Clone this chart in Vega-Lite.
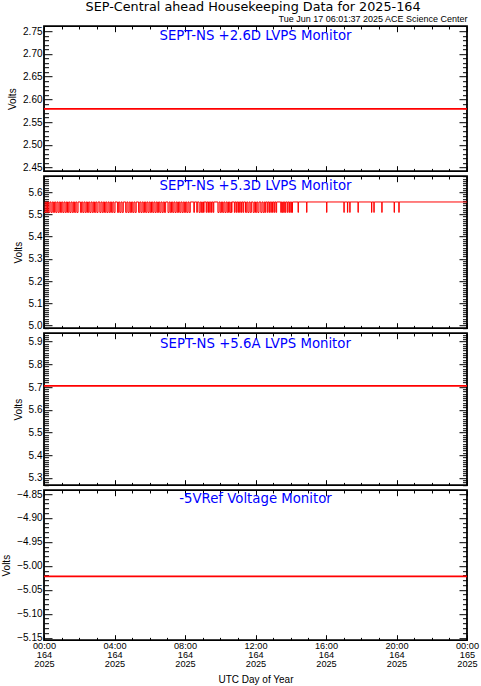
{
  "$schema": "https://vega.github.io/schema/vega-lite/v6.json",
  "background": "white",
  "padding": {"left": 0, "top": 0.2, "right": 0, "bottom": 0},
  "spacing": 5,
  "bounds": "flush",
  "title": {"text": "SEP-Central ahead Housekeeping Data for 2025-164", "font": "DejaVu Sans", "fontSize": 12.8, "fontWeight": "normal", "color": "black", "anchor": "middle", "offset": 0, "dx": 13},
  "config": {
    "view": {"stroke": "black", "strokeWidth": 1.8},
    "axis": {"domain": false, "grid": false, "labelFont": "Liberation Sans", "labelFontSize": 10, "labelColor": "black", "titleFont": "Liberation Sans", "titleFontSize": 10, "titleFontWeight": "normal", "titleColor": "black", "tickColor": "black", "tickWidth": 1, "labelOverlap": false, "labelFlush": false}
  },
  "datasets": {
    "flat": [
      {"t": "2025-06-13T00:00Z", "a": 2.579, "c": 5.705, "d": -5.022},
      {"t": "2025-06-13T01:00Z", "a": 2.579, "c": 5.705, "d": -5.022},
      {"t": "2025-06-13T02:00Z", "a": 2.579, "c": 5.705, "d": -5.022},
      {"t": "2025-06-13T03:00Z", "a": 2.579, "c": 5.705, "d": -5.022},
      {"t": "2025-06-13T04:00Z", "a": 2.579, "c": 5.705, "d": -5.022},
      {"t": "2025-06-13T05:00Z", "a": 2.579, "c": 5.705, "d": -5.022},
      {"t": "2025-06-13T06:00Z", "a": 2.579, "c": 5.705, "d": -5.022},
      {"t": "2025-06-13T07:00Z", "a": 2.579, "c": 5.705, "d": -5.022},
      {"t": "2025-06-13T08:00Z", "a": 2.579, "c": 5.705, "d": -5.022},
      {"t": "2025-06-13T09:00Z", "a": 2.579, "c": 5.705, "d": -5.022},
      {"t": "2025-06-13T10:00Z", "a": 2.579, "c": 5.705, "d": -5.022},
      {"t": "2025-06-13T11:00Z", "a": 2.579, "c": 5.705, "d": -5.022},
      {"t": "2025-06-13T12:00Z", "a": 2.579, "c": 5.705, "d": -5.022},
      {"t": "2025-06-13T13:00Z", "a": 2.579, "c": 5.705, "d": -5.022},
      {"t": "2025-06-13T14:00Z", "a": 2.579, "c": 5.705, "d": -5.022},
      {"t": "2025-06-13T15:00Z", "a": 2.579, "c": 5.705, "d": -5.022},
      {"t": "2025-06-13T16:00Z", "a": 2.579, "c": 5.705, "d": -5.022},
      {"t": "2025-06-13T17:00Z", "a": 2.579, "c": 5.705, "d": -5.022},
      {"t": "2025-06-13T18:00Z", "a": 2.579, "c": 5.705, "d": -5.022},
      {"t": "2025-06-13T19:00Z", "a": 2.579, "c": 5.705, "d": -5.022},
      {"t": "2025-06-13T20:00Z", "a": 2.579, "c": 5.705, "d": -5.022},
      {"t": "2025-06-13T21:00Z", "a": 2.579, "c": 5.705, "d": -5.022},
      {"t": "2025-06-13T22:00Z", "a": 2.579, "c": 5.705, "d": -5.022},
      {"t": "2025-06-13T23:00Z", "a": 2.579, "c": 5.705, "d": -5.022},
      {"t": "2025-06-14T00:00Z", "a": 2.579, "c": 5.705, "d": -5.022}
    ],
    "p2": [
      {"t":"2025-06-13T00:00Z","v":5.509},{"t":"2025-06-13T00:04Z","v":5.556},{"t":"2025-06-13T00:08Z","v":5.509},{"t":"2025-06-13T00:12Z","v":5.556},
      {"t":"2025-06-13T00:16Z","v":5.509},{"t":"2025-06-13T00:20Z","v":5.556},{"t":"2025-06-13T00:24Z","v":5.509},{"t":"2025-06-13T00:28Z","v":5.556},
      {"t":"2025-06-13T00:32Z","v":5.509},{"t":"2025-06-13T00:36Z","v":5.556},{"t":"2025-06-13T00:40Z","v":5.509},{"t":"2025-06-13T00:44Z","v":5.556},
      {"t":"2025-06-13T00:48Z","v":5.509},{"t":"2025-06-13T00:52Z","v":5.556},{"t":"2025-06-13T00:56Z","v":5.509},{"t":"2025-06-13T01:00Z","v":5.556},
      {"t":"2025-06-13T01:04Z","v":5.509},{"t":"2025-06-13T01:08Z","v":5.556},{"t":"2025-06-13T01:12Z","v":5.509},{"t":"2025-06-13T01:16Z","v":5.556},
      {"t":"2025-06-13T01:20Z","v":5.509},{"t":"2025-06-13T01:24Z","v":5.556},{"t":"2025-06-13T01:28Z","v":5.509},{"t":"2025-06-13T01:32Z","v":5.556},
      {"t":"2025-06-13T01:36Z","v":5.509},{"t":"2025-06-13T01:40Z","v":5.556},{"t":"2025-06-13T01:44Z","v":5.509},{"t":"2025-06-13T01:48Z","v":5.556},
      {"t":"2025-06-13T01:52Z","v":5.509},{"t":"2025-06-13T01:56Z","v":5.556},
      {"t":"2025-06-13T02:04Z","v":5.509},{"t":"2025-06-13T02:08Z","v":5.556},{"t":"2025-06-13T02:12Z","v":5.509},{"t":"2025-06-13T02:16Z","v":5.556},
      {"t":"2025-06-13T02:20Z","v":5.509},{"t":"2025-06-13T02:24Z","v":5.556},{"t":"2025-06-13T02:28Z","v":5.509},{"t":"2025-06-13T02:32Z","v":5.556},
      {"t":"2025-06-13T02:36Z","v":5.509},{"t":"2025-06-13T02:40Z","v":5.556},{"t":"2025-06-13T02:44Z","v":5.509},{"t":"2025-06-13T02:48Z","v":5.556},
      {"t":"2025-06-13T02:52Z","v":5.509},{"t":"2025-06-13T02:56Z","v":5.556},{"t":"2025-06-13T03:00Z","v":5.509},{"t":"2025-06-13T03:04Z","v":5.556},
      {"t":"2025-06-13T03:10Z","v":5.509},{"t":"2025-06-13T03:14Z","v":5.556},{"t":"2025-06-13T03:18Z","v":5.509},{"t":"2025-06-13T03:22Z","v":5.556},
      {"t":"2025-06-13T03:26Z","v":5.509},{"t":"2025-06-13T03:30Z","v":5.556},{"t":"2025-06-13T03:34Z","v":5.509},{"t":"2025-06-13T03:38Z","v":5.556},
      {"t":"2025-06-13T03:42Z","v":5.509},{"t":"2025-06-13T03:46Z","v":5.556},{"t":"2025-06-13T03:50Z","v":5.509},{"t":"2025-06-13T03:54Z","v":5.556},
      {"t":"2025-06-13T03:58Z","v":5.509},{"t":"2025-06-13T04:02Z","v":5.556},
      {"t":"2025-06-13T04:10Z","v":5.509},{"t":"2025-06-13T04:14Z","v":5.556},{"t":"2025-06-13T04:18Z","v":5.509},{"t":"2025-06-13T04:22Z","v":5.556},
      {"t":"2025-06-13T04:26Z","v":5.509},{"t":"2025-06-13T04:30Z","v":5.556},
      {"t":"2025-06-13T04:38Z","v":5.509},{"t":"2025-06-13T04:42Z","v":5.556},{"t":"2025-06-13T04:46Z","v":5.509},{"t":"2025-06-13T04:50Z","v":5.556},
      {"t":"2025-06-13T04:54Z","v":5.509},{"t":"2025-06-13T04:58Z","v":5.556},{"t":"2025-06-13T05:02Z","v":5.509},{"t":"2025-06-13T05:06Z","v":5.556},
      {"t":"2025-06-13T05:10Z","v":5.509},{"t":"2025-06-13T05:14Z","v":5.556},
      {"t":"2025-06-13T05:22Z","v":5.509},{"t":"2025-06-13T05:26Z","v":5.556},{"t":"2025-06-13T05:30Z","v":5.509},{"t":"2025-06-13T05:34Z","v":5.556},
      {"t":"2025-06-13T05:38Z","v":5.509},{"t":"2025-06-13T05:42Z","v":5.556},{"t":"2025-06-13T05:46Z","v":5.509},{"t":"2025-06-13T05:50Z","v":5.556},
      {"t":"2025-06-13T05:54Z","v":5.509},{"t":"2025-06-13T05:58Z","v":5.556},{"t":"2025-06-13T06:02Z","v":5.509},{"t":"2025-06-13T06:06Z","v":5.556},
      {"t":"2025-06-13T06:10Z","v":5.509},{"t":"2025-06-13T06:14Z","v":5.556},{"t":"2025-06-13T06:18Z","v":5.509},{"t":"2025-06-13T06:22Z","v":5.556},
      {"t":"2025-06-13T06:26Z","v":5.509},{"t":"2025-06-13T06:30Z","v":5.556},{"t":"2025-06-13T06:34Z","v":5.509},{"t":"2025-06-13T06:38Z","v":5.556},
      {"t":"2025-06-13T06:42Z","v":5.509},{"t":"2025-06-13T06:46Z","v":5.556},{"t":"2025-06-13T06:50Z","v":5.509},{"t":"2025-06-13T06:54Z","v":5.556},
      {"t":"2025-06-13T07:02Z","v":5.509},{"t":"2025-06-13T07:06Z","v":5.556},{"t":"2025-06-13T07:10Z","v":5.509},{"t":"2025-06-13T07:14Z","v":5.556},
      {"t":"2025-06-13T07:18Z","v":5.509},{"t":"2025-06-13T07:22Z","v":5.556},{"t":"2025-06-13T07:26Z","v":5.509},{"t":"2025-06-13T07:30Z","v":5.556},
      {"t":"2025-06-13T07:34Z","v":5.509},{"t":"2025-06-13T07:38Z","v":5.556},{"t":"2025-06-13T07:42Z","v":5.509},{"t":"2025-06-13T07:46Z","v":5.556},
      {"t":"2025-06-13T07:50Z","v":5.509},{"t":"2025-06-13T07:54Z","v":5.556},{"t":"2025-06-13T07:58Z","v":5.509},{"t":"2025-06-13T08:02Z","v":5.556},
      {"t":"2025-06-13T08:06Z","v":5.509},{"t":"2025-06-13T08:10Z","v":5.556},{"t":"2025-06-13T08:14Z","v":5.509},{"t":"2025-06-13T08:18Z","v":5.556},
      {"t":"2025-06-13T08:30Z","v":5.509},{"t":"2025-06-13T08:32Z","v":5.556},{"t":"2025-06-13T08:40Z","v":5.509},{"t":"2025-06-13T08:42Z","v":5.556},
      {"t":"2025-06-13T08:48Z","v":5.509},{"t":"2025-06-13T08:52Z","v":5.556},{"t":"2025-06-13T08:56Z","v":5.509},{"t":"2025-06-13T09:00Z","v":5.556},
      {"t":"2025-06-13T09:03Z","v":5.509},{"t":"2025-06-13T09:05Z","v":5.556},
      {"t":"2025-06-13T09:12Z","v":5.509},{"t":"2025-06-13T09:14Z","v":5.556},{"t":"2025-06-13T09:18Z","v":5.509},{"t":"2025-06-13T09:20Z","v":5.556},
      {"t":"2025-06-13T09:24Z","v":5.509},{"t":"2025-06-13T09:26Z","v":5.556},{"t":"2025-06-13T09:30Z","v":5.509},{"t":"2025-06-13T09:32Z","v":5.556},
      {"t":"2025-06-13T09:36Z","v":5.509},{"t":"2025-06-13T09:38Z","v":5.556},
      {"t":"2025-06-13T09:52Z","v":5.509},{"t":"2025-06-13T09:56Z","v":5.556},{"t":"2025-06-13T10:00Z","v":5.509},{"t":"2025-06-13T10:04Z","v":5.556},
      {"t":"2025-06-13T10:08Z","v":5.509},{"t":"2025-06-13T10:12Z","v":5.556},{"t":"2025-06-13T10:16Z","v":5.509},{"t":"2025-06-13T10:20Z","v":5.556},
      {"t":"2025-06-13T10:24Z","v":5.509},{"t":"2025-06-13T10:28Z","v":5.556},{"t":"2025-06-13T10:32Z","v":5.509},{"t":"2025-06-13T10:36Z","v":5.556},
      {"t":"2025-06-13T10:38Z","v":5.509},{"t":"2025-06-13T10:40Z","v":5.556},
      {"t":"2025-06-13T10:48Z","v":5.509},{"t":"2025-06-13T10:50Z","v":5.556},{"t":"2025-06-13T10:54Z","v":5.509},{"t":"2025-06-13T10:56Z","v":5.556},
      {"t":"2025-06-13T11:00Z","v":5.509},{"t":"2025-06-13T11:02Z","v":5.556},{"t":"2025-06-13T11:06Z","v":5.509},{"t":"2025-06-13T11:08Z","v":5.556},
      {"t":"2025-06-13T11:12Z","v":5.509},{"t":"2025-06-13T11:14Z","v":5.556},{"t":"2025-06-13T11:18Z","v":5.509},{"t":"2025-06-13T11:20Z","v":5.556},
      {"t":"2025-06-13T11:26Z","v":5.509},{"t":"2025-06-13T11:30Z","v":5.556},{"t":"2025-06-13T11:34Z","v":5.509},{"t":"2025-06-13T11:38Z","v":5.556},
      {"t":"2025-06-13T11:42Z","v":5.509},{"t":"2025-06-13T11:46Z","v":5.556},{"t":"2025-06-13T11:52Z","v":5.509},{"t":"2025-06-13T11:56Z","v":5.556},
      {"t":"2025-06-13T12:00Z","v":5.509},{"t":"2025-06-13T12:04Z","v":5.556},{"t":"2025-06-13T12:08Z","v":5.509},{"t":"2025-06-13T12:12Z","v":5.556},
      {"t":"2025-06-13T12:18Z","v":5.509},{"t":"2025-06-13T12:22Z","v":5.556},{"t":"2025-06-13T12:26Z","v":5.509},{"t":"2025-06-13T12:30Z","v":5.556},
      {"t":"2025-06-13T12:33Z","v":5.509},{"t":"2025-06-13T12:35Z","v":5.556},
      {"t":"2025-06-13T12:40Z","v":5.509},{"t":"2025-06-13T12:42Z","v":5.556},{"t":"2025-06-13T12:46Z","v":5.509},{"t":"2025-06-13T12:48Z","v":5.556},
      {"t":"2025-06-13T12:52Z","v":5.509},{"t":"2025-06-13T12:54Z","v":5.556},{"t":"2025-06-13T12:58Z","v":5.509},{"t":"2025-06-13T13:00Z","v":5.556},
      {"t":"2025-06-13T13:04Z","v":5.509},{"t":"2025-06-13T13:06Z","v":5.556},{"t":"2025-06-13T13:10Z","v":5.509},{"t":"2025-06-13T13:12Z","v":5.556},
      {"t":"2025-06-13T13:26Z","v":5.509},{"t":"2025-06-13T13:28Z","v":5.556},{"t":"2025-06-13T13:31Z","v":5.509},{"t":"2025-06-13T13:33Z","v":5.556},
      {"t":"2025-06-13T13:36Z","v":5.509},{"t":"2025-06-13T13:38Z","v":5.556},{"t":"2025-06-13T13:41Z","v":5.509},{"t":"2025-06-13T13:43Z","v":5.556},
      {"t":"2025-06-13T13:48Z","v":5.509},{"t":"2025-06-13T13:50Z","v":5.556},{"t":"2025-06-13T13:54Z","v":5.509},{"t":"2025-06-13T13:56Z","v":5.556},
      {"t":"2025-06-13T14:00Z","v":5.509},{"t":"2025-06-13T14:02Z","v":5.556},{"t":"2025-06-13T14:04Z","v":5.509},{"t":"2025-06-13T14:06Z","v":5.556},
      {"t":"2025-06-13T14:25Z","v":5.509},{"t":"2025-06-13T14:26Z","v":5.556},{"t":"2025-06-13T14:54Z","v":5.509},{"t":"2025-06-13T14:55Z","v":5.556},
      {"t":"2025-06-13T16:02Z","v":5.509},{"t":"2025-06-13T16:03Z","v":5.556},{"t":"2025-06-13T17:01Z","v":5.509},{"t":"2025-06-13T17:02Z","v":5.556},
      {"t":"2025-06-13T17:13Z","v":5.509},{"t":"2025-06-13T17:14Z","v":5.556},{"t":"2025-06-13T17:21Z","v":5.509},{"t":"2025-06-13T17:22Z","v":5.556},
      {"t":"2025-06-13T17:49Z","v":5.509},{"t":"2025-06-13T17:50Z","v":5.556},{"t":"2025-06-13T18:35Z","v":5.509},{"t":"2025-06-13T18:36Z","v":5.556},
      {"t":"2025-06-13T18:43Z","v":5.509},{"t":"2025-06-13T18:44Z","v":5.556},{"t":"2025-06-13T19:10Z","v":5.509},{"t":"2025-06-13T19:11Z","v":5.556},
      {"t":"2025-06-13T19:52Z","v":5.509},{"t":"2025-06-13T19:53Z","v":5.556},{"t":"2025-06-13T20:08Z","v":5.509},{"t":"2025-06-13T20:09Z","v":5.556},
      {"t":"2025-06-14T00:00Z","v":5.556}
    ]
  },
  "vconcat": [
    {
      "width": 423, "height": 145,
      "title": {"text": "SEPT-NS +2.6D LVPS Monitor", "font": "DejaVu Sans", "fontSize": 13.3, "fontWeight": "normal", "color": "#0000ff", "anchor": "middle", "frame": "group", "offset": -28, "baseline": "top"},
      "data": {"name": "flat"},
      "layer": [
        {"mark": {"type": "line", "color": "#ff0000", "strokeWidth": 1.7},
         "encoding": {
           "x": {"field": "t", "type": "temporal", "scale": {"type": "utc", "domain": [1749772800000, 1749859200000], "nice": false},
                 "axis": {"orient": "bottom", "values": [1749772800000,1749776400000,1749780000000,1749783600000,1749787200000,1749790800000,1749794400000,1749798000000,1749801600000,1749805200000,1749808800000,1749812400000,1749816000000,1749819600000,1749823200000,1749826800000,1749830400000,1749834000000,1749837600000,1749841200000,1749844800000,1749848400000,1749852000000,1749855600000,1749859200000],
                          "tickSize": {"condition": {"test": "utchours(datum.value)%4==0", "value": -5.5}, "value": -2.8}, "labels": false, "title": null}},
           "y": {"field": "a", "type": "quantitative", "scale": {"domain": [2.4421, 2.761], "nice": false, "zero": false},
                 "axis": {"orient": "left", "values": [2.45,2.46,2.47,2.48,2.49,2.5,2.51,2.52,2.53,2.54,2.55,2.56,2.57,2.58,2.59,2.6,2.61,2.62,2.63,2.64,2.65,2.66,2.67,2.68,2.69,2.7,2.71,2.72,2.73,2.74,2.75],
                          "tickSize": {"condition": {"test": "abs(datum.value*20-round(datum.value*20))<0.001", "value": -8}, "value": -4.5},
                          "labelExpr": "abs(datum.value*20-round(datum.value*20))<0.001 ? format(datum.value,'.2f') : ''",
                          "labelPadding": 10, "title": "Volts", "titlePadding": 5}}
         }},
        {"mark": {"type": "line", "opacity": 0},
         "encoding": {
           "x": {"field": "t", "type": "temporal",
                 "axis": {"orient": "top", "values": [1749772800000,1749776400000,1749780000000,1749783600000,1749787200000,1749790800000,1749794400000,1749798000000,1749801600000,1749805200000,1749808800000,1749812400000,1749816000000,1749819600000,1749823200000,1749826800000,1749830400000,1749834000000,1749837600000,1749841200000,1749844800000,1749848400000,1749852000000,1749855600000,1749859200000],
                          "tickSize": {"condition": {"test": "utchours(datum.value)%4==0", "value": -5.5}, "value": -2.8}, "labels": false,
                          "title": "Tue Jun 17 06:01:37 2025 ACE Science Center", "titleFontSize": 9, "titleAnchor": "end", "titlePadding": 2}},
           "y": {"field": "a", "type": "quantitative",
                 "axis": {"orient": "right", "values": [2.45,2.46,2.47,2.48,2.49,2.5,2.51,2.52,2.53,2.54,2.55,2.56,2.57,2.58,2.59,2.6,2.61,2.62,2.63,2.64,2.65,2.66,2.67,2.68,2.69,2.7,2.71,2.72,2.73,2.74,2.75],
                          "tickSize": {"condition": {"test": "abs(datum.value*20-round(datum.value*20))<0.001", "value": -8}, "value": -4.5}, "labels": false, "title": null}}
         }}
      ],
      "resolve": {"axis": {"x": "independent", "y": "independent"}}
    },
    {
      "width": 423, "height": 152,
      "title": {"text": "SEPT-NS +5.3D LVPS Monitor", "font": "DejaVu Sans", "fontSize": 13.3, "fontWeight": "normal", "color": "#0000ff", "anchor": "middle", "frame": "group", "offset": -20.5, "baseline": "top"},
      "data": {"name": "p2"},
      "layer": [
        {"mark": {"type": "line", "color": "#ff0000", "strokeWidth": 1, "interpolate": "step-after"},
         "encoding": {
           "x": {"field": "t", "type": "temporal", "scale": {"type": "utc", "domain": [1749772800000, 1749859200000], "nice": false},
                 "axis": {"orient": "bottom", "values": [1749772800000,1749776400000,1749780000000,1749783600000,1749787200000,1749790800000,1749794400000,1749798000000,1749801600000,1749805200000,1749808800000,1749812400000,1749816000000,1749819600000,1749823200000,1749826800000,1749830400000,1749834000000,1749837600000,1749841200000,1749844800000,1749848400000,1749852000000,1749855600000,1749859200000],
                          "tickSize": {"condition": {"test": "utchours(datum.value)%4==0", "value": -5.5}, "value": -2.8}, "labels": false, "title": null}},
           "y": {"field": "v", "type": "quantitative", "scale": {"domain": [4.988, 5.672], "nice": false, "zero": false},
                 "axis": {"orient": "left", "values": [4.99,5,5.01,5.02,5.03,5.04,5.05,5.06,5.07,5.08,5.09,5.1,5.11,5.12,5.13,5.14,5.15,5.16,5.17,5.18,5.19,5.2,5.21,5.22,5.23,5.24,5.25,5.26,5.27,5.28,5.29,5.3,5.31,5.32,5.33,5.34,5.35,5.36,5.37,5.38,5.39,5.4,5.41,5.42,5.43,5.44,5.45,5.46,5.47,5.48,5.49,5.5,5.51,5.52,5.53,5.54,5.55,5.56,5.57,5.58,5.59,5.6,5.61,5.62,5.63,5.64,5.65,5.66,5.67],
                          "tickSize": {"condition": {"test": "abs(datum.value*10-round(datum.value*10))<0.001", "value": -8}, "value": -4.5},
                          "labelExpr": "abs(datum.value*10-round(datum.value*10))<0.001 ? format(datum.value,'.1f') : ''",
                          "labelPadding": 10, "title": "Volts", "titlePadding": 5}}
         }},
        {"mark": {"type": "line", "opacity": 0},
         "encoding": {
           "x": {"field": "t", "type": "temporal",
                 "axis": {"orient": "top", "values": [1749772800000,1749776400000,1749780000000,1749783600000,1749787200000,1749790800000,1749794400000,1749798000000,1749801600000,1749805200000,1749808800000,1749812400000,1749816000000,1749819600000,1749823200000,1749826800000,1749830400000,1749834000000,1749837600000,1749841200000,1749844800000,1749848400000,1749852000000,1749855600000,1749859200000],
                          "tickSize": {"condition": {"test": "utchours(datum.value)%4==0", "value": -5.5}, "value": -2.8}, "labels": false, "title": null}},
           "y": {"field": "v", "type": "quantitative",
                 "axis": {"orient": "right", "values": [4.99,5,5.01,5.02,5.03,5.04,5.05,5.06,5.07,5.08,5.09,5.1,5.11,5.12,5.13,5.14,5.15,5.16,5.17,5.18,5.19,5.2,5.21,5.22,5.23,5.24,5.25,5.26,5.27,5.28,5.29,5.3,5.31,5.32,5.33,5.34,5.35,5.36,5.37,5.38,5.39,5.4,5.41,5.42,5.43,5.44,5.45,5.46,5.47,5.48,5.49,5.5,5.51,5.52,5.53,5.54,5.55,5.56,5.57,5.58,5.59,5.6,5.61,5.62,5.63,5.64,5.65,5.66,5.67],
                          "tickSize": {"condition": {"test": "abs(datum.value*10-round(datum.value*10))<0.001", "value": -8}, "value": -4.5}, "labels": false, "title": null}}
         }}
      ],
      "resolve": {"axis": {"x": "independent", "y": "independent"}}
    },
    {
      "width": 423, "height": 152,
      "title": {"text": "SEPT-NS +5.6A LVPS Monitor", "font": "DejaVu Sans", "fontSize": 13.3, "fontWeight": "normal", "color": "#0000ff", "anchor": "middle", "frame": "group", "offset": -20.5, "baseline": "top"},
      "data": {"name": "flat"},
      "layer": [
        {"mark": {"type": "line", "color": "#ff0000", "strokeWidth": 1.7},
         "encoding": {
           "x": {"field": "t", "type": "temporal", "scale": {"type": "utc", "domain": [1749772800000, 1749859200000], "nice": false},
                 "axis": {"orient": "bottom", "values": [1749772800000,1749776400000,1749780000000,1749783600000,1749787200000,1749790800000,1749794400000,1749798000000,1749801600000,1749805200000,1749808800000,1749812400000,1749816000000,1749819600000,1749823200000,1749826800000,1749830400000,1749834000000,1749837600000,1749841200000,1749844800000,1749848400000,1749852000000,1749855600000,1749859200000],
                          "tickSize": {"condition": {"test": "utchours(datum.value)%4==0", "value": -5.5}, "value": -2.8}, "labels": false, "title": null}},
           "y": {"field": "c", "type": "quantitative", "scale": {"domain": [5.268, 5.937], "nice": false, "zero": false},
                 "axis": {"orient": "left", "values": [5.27,5.28,5.29,5.3,5.31,5.32,5.33,5.34,5.35,5.36,5.37,5.38,5.39,5.4,5.41,5.42,5.43,5.44,5.45,5.46,5.47,5.48,5.49,5.5,5.51,5.52,5.53,5.54,5.55,5.56,5.57,5.58,5.59,5.6,5.61,5.62,5.63,5.64,5.65,5.66,5.67,5.68,5.69,5.7,5.71,5.72,5.73,5.74,5.75,5.76,5.77,5.78,5.79,5.8,5.81,5.82,5.83,5.84,5.85,5.86,5.87,5.88,5.89,5.9,5.91,5.92,5.93],
                          "tickSize": {"condition": {"test": "abs(datum.value*10-round(datum.value*10))<0.001", "value": -8}, "value": -4.5},
                          "labelExpr": "abs(datum.value*10-round(datum.value*10))<0.001 ? format(datum.value,'.1f') : ''",
                          "labelPadding": 10, "title": "Volts", "titlePadding": 5}}
         }},
        {"mark": {"type": "line", "opacity": 0},
         "encoding": {
           "x": {"field": "t", "type": "temporal",
                 "axis": {"orient": "top", "values": [1749772800000,1749776400000,1749780000000,1749783600000,1749787200000,1749790800000,1749794400000,1749798000000,1749801600000,1749805200000,1749808800000,1749812400000,1749816000000,1749819600000,1749823200000,1749826800000,1749830400000,1749834000000,1749837600000,1749841200000,1749844800000,1749848400000,1749852000000,1749855600000,1749859200000],
                          "tickSize": {"condition": {"test": "utchours(datum.value)%4==0", "value": -5.5}, "value": -2.8}, "labels": false, "title": null}},
           "y": {"field": "c", "type": "quantitative",
                 "axis": {"orient": "right", "values": [5.27,5.28,5.29,5.3,5.31,5.32,5.33,5.34,5.35,5.36,5.37,5.38,5.39,5.4,5.41,5.42,5.43,5.44,5.45,5.46,5.47,5.48,5.49,5.5,5.51,5.52,5.53,5.54,5.55,5.56,5.57,5.58,5.59,5.6,5.61,5.62,5.63,5.64,5.65,5.66,5.67,5.68,5.69,5.7,5.71,5.72,5.73,5.74,5.75,5.76,5.77,5.78,5.79,5.8,5.81,5.82,5.83,5.84,5.85,5.86,5.87,5.88,5.89,5.9,5.91,5.92,5.93],
                          "tickSize": {"condition": {"test": "abs(datum.value*10-round(datum.value*10))<0.001", "value": -8}, "value": -4.5}, "labels": false, "title": null}}
         }}
      ],
      "resolve": {"axis": {"x": "independent", "y": "independent"}}
    },
    {
      "width": 423, "height": 150,
      "title": {"text": "-5VRef Voltage Monitor", "font": "DejaVu Sans", "fontSize": 13.3, "fontWeight": "normal", "color": "#0000ff", "anchor": "middle", "frame": "group", "offset": -16.5, "baseline": "top"},
      "data": {"name": "flat"},
      "layer": [
        {"mark": {"type": "line", "color": "#ff0000", "strokeWidth": 1.7},
         "encoding": {
           "x": {"field": "t", "type": "temporal", "scale": {"type": "utc", "domain": [1749772800000, 1749859200000], "nice": false},
                 "axis": {"orient": "bottom", "values": [1749772800000,1749776400000,1749780000000,1749783600000,1749787200000,1749790800000,1749794400000,1749798000000,1749801600000,1749805200000,1749808800000,1749812400000,1749816000000,1749819600000,1749823200000,1749826800000,1749830400000,1749834000000,1749837600000,1749841200000,1749844800000,1749848400000,1749852000000,1749855600000,1749859200000],
                          "tickSize": {"condition": {"test": "utchours(datum.value)%4==0", "value": -5.5}, "value": -2.8},
                          "labelExpr": "utchours(datum.value)%4==0 ? [utcFormat(datum.value,'%H:%M'), utcFormat(datum.value,'%j'), utcFormat(datum.value,'%Y')] : ''",
                          "labelFontSize": 9.2, "labelPadding": 6.5, "labelLineHeight": 9.2, "title": "UTC Day of Year", "titlePadding": 6}},
           "y": {"field": "d", "type": "quantitative", "scale": {"domain": [-5.155, -4.842], "nice": false, "zero": false},
                 "axis": {"orient": "left", "values": [-5.15,-5.14,-5.13,-5.12,-5.11,-5.1,-5.09,-5.08,-5.07,-5.06,-5.05,-5.04,-5.03,-5.02,-5.01,-5,-4.99,-4.98,-4.97,-4.96,-4.95,-4.94,-4.93,-4.92,-4.91,-4.9,-4.89,-4.88,-4.87,-4.86,-4.85],
                          "tickSize": {"condition": {"test": "abs(datum.value*20-round(datum.value*20))<0.001", "value": -8}, "value": -4.5},
                          "labelExpr": "abs(datum.value*20-round(datum.value*20))<0.001 ? format(datum.value,'.2f') : ''",
                          "labelPadding": 10, "title": "Volts", "titlePadding": 5}}
         }},
        {"mark": {"type": "line", "opacity": 0},
         "encoding": {
           "x": {"field": "t", "type": "temporal",
                 "axis": {"orient": "top", "values": [1749772800000,1749776400000,1749780000000,1749783600000,1749787200000,1749790800000,1749794400000,1749798000000,1749801600000,1749805200000,1749808800000,1749812400000,1749816000000,1749819600000,1749823200000,1749826800000,1749830400000,1749834000000,1749837600000,1749841200000,1749844800000,1749848400000,1749852000000,1749855600000,1749859200000],
                          "tickSize": {"condition": {"test": "utchours(datum.value)%4==0", "value": -5.5}, "value": -2.8}, "labels": false, "title": null}},
           "y": {"field": "d", "type": "quantitative",
                 "axis": {"orient": "right", "values": [-5.15,-5.14,-5.13,-5.12,-5.11,-5.1,-5.09,-5.08,-5.07,-5.06,-5.05,-5.04,-5.03,-5.02,-5.01,-5,-4.99,-4.98,-4.97,-4.96,-4.95,-4.94,-4.93,-4.92,-4.91,-4.9,-4.89,-4.88,-4.87,-4.86,-4.85],
                          "tickSize": {"condition": {"test": "abs(datum.value*20-round(datum.value*20))<0.001", "value": -8}, "value": -4.5}, "labels": false, "title": null}}
         }}
      ],
      "resolve": {"axis": {"x": "independent", "y": "independent"}}
    }
  ]
}
